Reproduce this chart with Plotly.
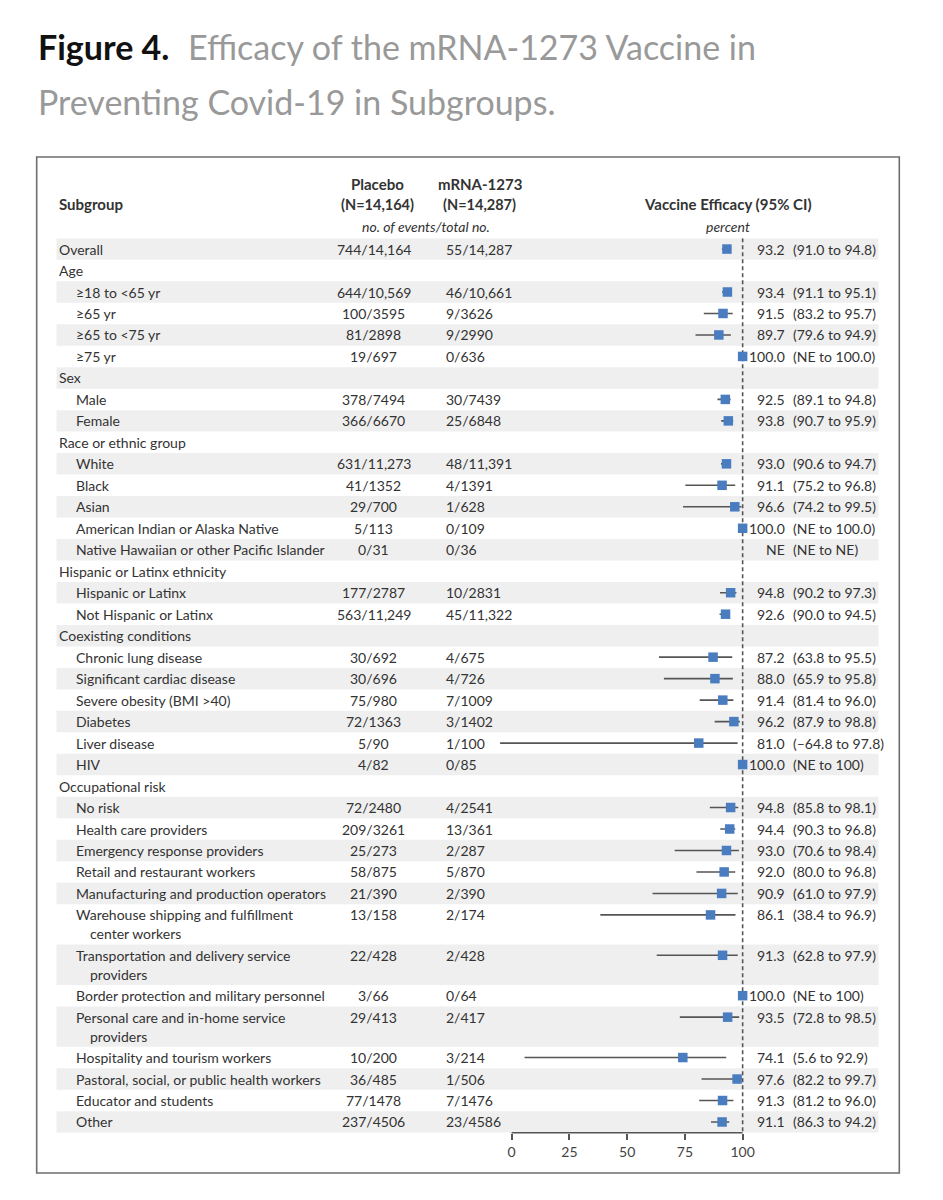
import plotly.graph_objects as go

# ---------------- data ----------------
labels = ["Overall", "Age", "≥18 to <65 yr", "≥65 yr", "≥65 to <75 yr", "≥75 yr",
          "Sex", "Male", "Female",
          "Race or ethnic group", "White", "Black", "Asian",
          "American Indian or Alaska Native", "Native Hawaiian or other Pacific Islander",
          "Hispanic or Latinx ethnicity", "Hispanic or Latinx", "Not Hispanic or Latinx",
          "Coexisting conditions", "Chronic lung disease", "Significant cardiac disease",
          "Severe obesity (BMI >40)", "Diabetes", "Liver disease", "HIV",
          "Occupational risk", "No risk", "Health care providers", "Emergency response providers",
          "Retail and restaurant workers", "Manufacturing and production operators",
          "Warehouse shipping and fulfillment\ncenter workers",
          "Transportation and delivery service\nproviders",
          "Border protection and military personnel",
          "Personal care and in-home service\nproviders",
          "Hospitality and tourism workers", "Pastoral, social, or public health workers",
          "Educator and students", "Other"]
indent = [0, 0, 1, 1, 1, 1, 0, 1, 1, 0, 1, 1, 1, 1, 1, 0, 1, 1, 0, 1, 1, 1, 1, 1, 1,
          0, 1, 1, 1, 1, 1, 1, 1, 1, 1, 1, 1, 1, 1]
placebo = ["744/14,164", "", "644/10,569", "100/3595", "81/2898", "19/697", "", "378/7494", "366/6670",
           "", "631/11,273", "41/1352", "29/700", "5/113", "0/31", "", "177/2787", "563/11,249",
           "", "30/692", "30/696", "75/980", "72/1363", "5/90", "4/82", "", "72/2480", "209/3261",
           "25/273", "58/875", "21/390", "13/158", "22/428", "3/66", "29/413", "10/200", "36/485",
           "77/1478", "237/4506"]
mrna = ["55/14,287", "", "46/10,661", "9/3626", "9/2990", "0/636", "", "30/7439", "25/6848",
        "", "48/11,391", "4/1391", "1/628", "0/109", "0/36", "", "10/2831", "45/11,322",
        "", "4/675", "4/726", "7/1009", "3/1402", "1/100", "0/85", "", "4/2541", "13/361",
        "2/287", "5/870", "2/390", "2/174", "2/428", "0/64", "2/417", "3/214", "1/506",
        "7/1476", "23/4586"]
ve = [93.2, None, 93.4, 91.5, 89.7, 100.0, None, 92.5, 93.8, None, 93.0, 91.1, 96.6, 100.0, None,
      None, 94.8, 92.6, None, 87.2, 88.0, 91.4, 96.2, 81.0, 100.0, None, 94.8, 94.4, 93.0, 92.0,
      90.9, 86.1, 91.3, 100.0, 93.5, 74.1, 97.6, 91.3, 91.1]
ci_lo = [91.0, None, 91.1, 83.2, 79.6, None, None, 89.1, 90.7, None, 90.6, 75.2, 74.2, None, None,
         None, 90.2, 90.0, None, 63.8, 65.9, 81.4, 87.9, -64.8, None, None, 85.8, 90.3, 70.6, 80.0,
         61.0, 38.4, 62.8, None, 72.8, 5.6, 82.2, 81.2, 86.3]
ci_hi = [94.8, None, 95.1, 95.7, 94.9, 100.0, None, 94.8, 95.9, None, 94.7, 96.8, 99.5, 100.0, None,
         None, 97.3, 94.5, None, 95.5, 95.8, 96.0, 98.8, 97.8, 100.0, None, 98.1, 96.8, 98.4, 96.8,
         97.9, 96.9, 97.9, 100.0, 98.5, 92.9, 99.7, 96.0, 94.2]
est_txt = ["93.2", "", "93.4", "91.5", "89.7", "100.0", "", "92.5", "93.8", "", "93.0", "91.1", "96.6",
           "100.0", "NE", "", "94.8", "92.6", "", "87.2", "88.0", "91.4", "96.2", "81.0", "100.0", "",
           "94.8", "94.4", "93.0", "92.0", "90.9", "86.1", "91.3", "100.0", "93.5", "74.1", "97.6",
           "91.3", "91.1"]
ci_txt = ["(91.0 to 94.8)", "", "(91.1 to 95.1)", "(83.2 to 95.7)", "(79.6 to 94.9)", "(NE to 100.0)", "",
          "(89.1 to 94.8)", "(90.7 to 95.9)", "", "(90.6 to 94.7)", "(75.2 to 96.8)", "(74.2 to 99.5)",
          "(NE to 100.0)", "(NE to NE)", "", "(90.2 to 97.3)", "(90.0 to 94.5)", "", "(63.8 to 95.5)",
          "(65.9 to 95.8)", "(81.4 to 96.0)", "(87.9 to 98.8)", "(–64.8 to 97.8)", "(NE to 100)", "",
          "(85.8 to 98.1)", "(90.3 to 96.8)", "(70.6 to 98.4)", "(80.0 to 96.8)", "(61.0 to 97.9)",
          "(38.4 to 96.9)", "(62.8 to 97.9)", "(NE to 100)", "(72.8 to 98.5)", "(5.6 to 92.9)",
          "(82.2 to 99.7)", "(81.2 to 96.0)", "(86.3 to 94.2)"]
tick_vals = [0, 25, 50, 75, 100]

# ---------------- layout constants ----------------
W, H = 943, 1200
FONT = "Lato"
TXT = "#333333"
BODY = 14
ROW_PX = 21.48          # pixel height of one row unit
TOP_PX = 238.3          # top of first row
WRAP_H = 1.88           # height (row units) of a two-line row
X0_PX, X100_PX = 516, 749
XMIN, XMAX = -5, 102


def px(x):
    return x / W


def py(y):
    return 1 - y / H


# row geometry
tops, heights = [], []
t = 0.0
for lab in labels:
    h = WRAP_H if "\n" in lab else 1.0
    tops.append(t)
    heights.append(h)
    t += h
ytotal = t
yc = [tp + 0.5 for tp in tops]

bottom_px = TOP_PX + ytotal * ROW_PX
scale = (X100_PX - X0_PX) / 100.0
xl_px = X0_PX + XMIN * scale
xr_px = X0_PX + XMAX * scale

fig = go.Figure()

# CI lines
lx, ly = [], []
for i in range(len(labels)):
    if ci_lo[i] is not None and ci_hi[i] is not None:
        lx += [ci_lo[i], ci_hi[i], None]
        ly += [yc[i], yc[i], None]
fig.add_trace(go.Scatter(x=lx, y=ly, mode="lines", line=dict(color="#555555", width=1.6),
                         hoverinfo="skip", showlegend=False))

# point estimates
mx = [v for v in ve if v is not None]
my = [yc[i] for i, v in enumerate(ve) if v is not None]
fig.add_trace(go.Scatter(x=mx, y=my, mode="markers", cliponaxis=False,
                         marker=dict(symbol="square", size=9.5, color="#4a7cc0",
                                     line=dict(width=0)),
                         showlegend=False))

shapes = []
# alternating row shading
for i in range(len(labels)):
    if i % 2 == 0:
        shapes.append(dict(type="rect", xref="paper", yref="y", x0=px(57), x1=px(886),
                           y0=tops[i], y1=tops[i] + heights[i], fillcolor="#efefef",
                           line=dict(width=0), layer="below"))
# dashed reference line at 100
shapes.append(dict(type="line", xref="x", yref="y", x0=100, x1=100, y0=0, y1=ytotal,
                   line=dict(color="#555555", width=1.6, dash="4px,3px"), layer="below"))
# axis line from 0 to 100
shapes.append(dict(type="line", xref="x", yref="paper", x0=0, x1=100, y0=py(bottom_px),
                   y1=py(bottom_px), line=dict(color="#555555", width=1.5)))
# outer frame
shapes.append(dict(type="rect", xref="paper", yref="paper", x0=px(37), x1=px(907),
                   y0=py(1173), y1=py(157), line=dict(color="#6e6e6e", width=1.6),
                   fillcolor="rgba(0,0,0,0)"))

ann = []


def A(text, x, y, xanchor="left", size=BODY, color=TXT, yref="paper", **kw):
    ann.append(dict(text=text, x=x, y=y, xref="paper", yref=yref, xanchor=xanchor,
                    yanchor="middle", showarrow=False,
                    font=dict(family=FONT, size=size, color=color), **kw))


# title
A("<b>Figure 4.</b>", px(36), py(46), size=34, color="#111111")
A("Efficacy of the mRNA-1273 Vaccine in", px(188), py(46), size=34, color="#999999")
A("Preventing Covid-19 in Subgroups.", px(36), py(101), size=34, color="#999999")

# headers
A("<b>Subgroup</b>", px(57), py(204), size=15)
A("<b>Placebo</b>", px(381), py(184), xanchor="center", size=15)
A("<b>(N=14,164)</b>", px(381), py(204), xanchor="center", size=14.5)
A("<b>mRNA-1273</b>", px(484), py(184), xanchor="center", size=15)
A("<b>(N=14,287)</b>", px(484), py(204), xanchor="center", size=14.5)
A("<i>no. of events/total no.</i>", px(430), py(226), xanchor="center", size=14)
A("<b>Vaccine Efficacy (95% CI)</b>", px(734), py(204), xanchor="center", size=15)
A("<i>percent</i>", px(734), py(226), xanchor="center", size=14)

# rows
for i, lab in enumerate(labels):
    parts = lab.split("\n")
    lx0 = 75 if indent[i] else 57
    A(parts[0], px(lx0), yc[i], yref="y")
    if len(parts) > 1:
        A(parts[1], px(lx0 + 14), yc[i] + 19 / ROW_PX, yref="y")
    if placebo[i]:
        A(placebo[i], px(377), yc[i], xanchor="center", yref="y")
    if mrna[i]:
        A(mrna[i], px(448), yc[i], yref="y")
    if est_txt[i]:
        A(est_txt[i], px(794), yc[i], xanchor="right", yref="y")
        A(ci_txt[i], px(798), yc[i], yref="y")

fig.update_layout(
    width=W, height=H, autosize=False,
    margin=dict(l=0, r=0, t=0, b=0),
    paper_bgcolor="white", plot_bgcolor="rgba(0,0,0,0)",
    shapes=shapes, annotations=ann,
    xaxis=dict(domain=[px(xl_px), px(xr_px)], range=[XMIN, XMAX], tickvals=tick_vals,
               ticks="outside", ticklen=6, tickwidth=1.5, tickcolor="#555555",
               showgrid=False, zeroline=False, showline=False, fixedrange=True,
               tickfont=dict(family=FONT, size=14, color="#444444")),
    yaxis=dict(domain=[py(bottom_px), py(TOP_PX)], range=[ytotal, 0], visible=False,
               showgrid=False, zeroline=False, fixedrange=True),
    font=dict(family=FONT, color=TXT),
)

fig.write_html("out.html", config={"displayModeBar": False, "responsive": False},
               post_script="document.body.style.margin='0';")
